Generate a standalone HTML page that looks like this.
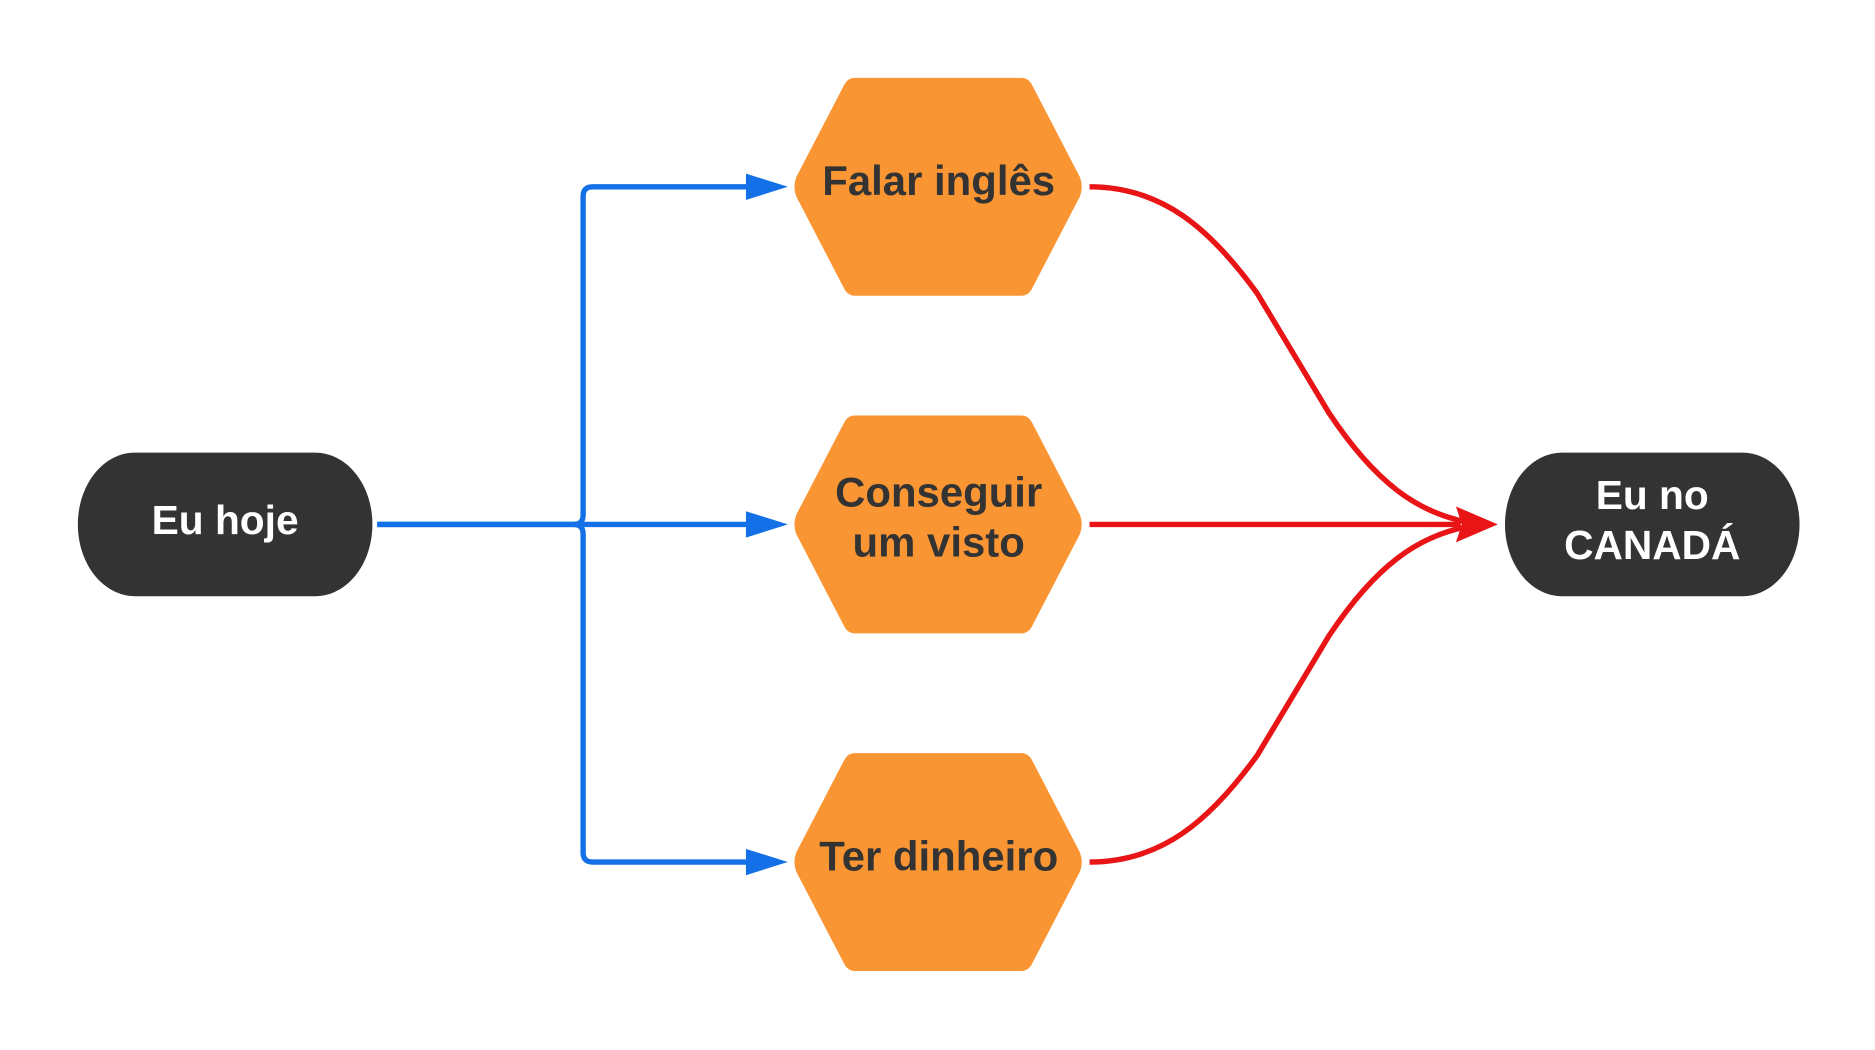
<!DOCTYPE html>
<html><head><style>
html,body{margin:0;padding:0;background:#fff;width:1875px;height:1050px;overflow:hidden}
svg{display:block}
text{font-family:"Liberation Sans",sans-serif;font-weight:bold;text-anchor:middle}
</style></head><body>
<svg width="1875" height="1050" viewBox="0 0 1566 877" xmlns="http://www.w3.org/2000/svg">
<rect x="0" y="0" width="1566" height="877" fill="#fff"/>
<path d="M113,378 H263 C290,378 311,405 311,438 C311,471 290,498 263,498 H113 C86,498 65,471 65,438 C65,405 86,378 113,378 Z" fill="#333333"/>
<text x="188" y="446" font-size="34" fill="#fff">Eu hoje</text>
<path d="M1305,378 H1455 C1482,378 1503,405 1503,438 C1503,471 1482,498 1455,498 H1305 C1278,498 1257,471 1257,438 C1257,405 1278,378 1305,378 Z" fill="#333333"/>
<text x="1380" y="425" font-size="34" fill="#fff">Eu no</text>
<text x="1380" y="467" font-size="34" fill="#fff">CANADÁ</text>
<g fill="#FA9533">
<path d="M714,65 H853 Q859,65 862,71 L902,148 Q905,156 902,164 L862,241 Q859,247 853,247 H714 Q708,247 705,241 L665,164 Q662,156 665,148 L705,71 Q708,65 714,65 Z"/>
<path transform="translate(0,282)" d="M714,65 H853 Q859,65 862,71 L902,148 Q905,156 902,164 L862,241 Q859,247 853,247 H714 Q708,247 705,241 L665,164 Q662,156 665,148 L705,71 Q708,65 714,65 Z"/>
<path transform="translate(0,564)" d="M714,65 H853 Q859,65 862,71 L902,148 Q905,156 902,164 L862,241 Q859,247 853,247 H714 Q708,247 705,241 L665,164 Q662,156 665,148 L705,71 Q708,65 714,65 Z"/>
</g>
<text x="784" y="163" font-size="35" fill="#333">Falar inglês</text>
<text x="784" y="423" font-size="35" fill="#333">Conseguir</text>
<text x="784" y="465" font-size="35" fill="#333">um visto</text>
<text x="784" y="727" font-size="35" fill="#333">Ter dinheiro</text>
<g stroke="#1470E6" stroke-width="4.5" fill="none">
<path d="M315,438 H625"/>
<path d="M315,438 H479 Q487,438 487,430 V164 Q487,156 495,156 H625"/>
<path d="M479,438 Q487,438 487,446 V712 Q487,720 495,720 H625"/>
</g>
<g fill="#1470E6">
<polygon points="658,156 623,145 623,167"/>
<polygon points="658,438 623,427 623,449"/>
<polygon points="658,720 623,709 623,731"/>
</g>
<g stroke="#E81416" stroke-width="4.5" fill="none">
<path d="M910,156 C970,156 1010,190 1050,245 L1110,345 C1150,405 1185,428 1225,436"/>
<path d="M910,720 C970,720 1010,686 1050,631 L1110,531 C1150,471 1185,448 1225,440"/>
<path d="M910,438 H1220"/>
</g>
<polygon points="1251,438 1216,423 1221,438 1216,453" fill="#E81416"/>
</svg>
</body></html>
